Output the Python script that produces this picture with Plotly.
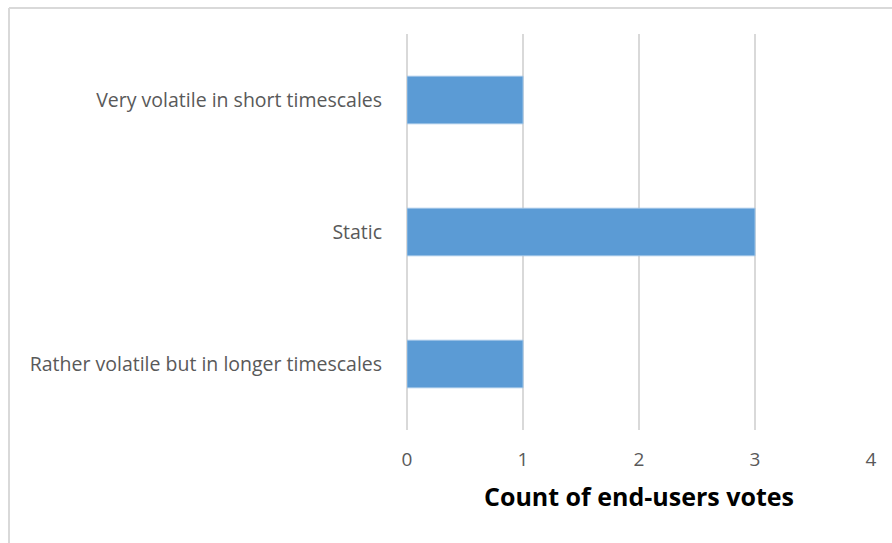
import plotly.graph_objects as go

# Vote counts per data-volatility category
categories = [
    "Rather volatile but in longer timescales",
    "Static",
    "Very volatile in short timescales",
]
votes = [1, 3, 1]
x_ticks = [0, 1, 2, 3, 4]

W, H = 892, 543
L, R, T, B = 407, 21, 34, 113
pw, ph = W - L - R, H - T - B


def px_x(p):
    return (p - L) / pw


def px_y(p):
    return (H - B - p) / ph


fig = go.Figure(
    go.Bar(
        x=votes,
        y=categories,
        orientation="h",
        marker=dict(color="#5b9bd5", line=dict(color="#9dc3e6", width=1)),
        width=0.36,
        hoverinfo="x+y",
    )
)

grid = "#d9d9d9"
font_family = "'Open Sans', sans-serif"

fig.update_layout(
    width=W,
    height=H,
    margin=dict(l=L, r=R, t=T, b=B),
    paper_bgcolor="white",
    plot_bgcolor="white",
    showlegend=False,
    font=dict(family=font_family, color="#595959", size=16),
    xaxis=dict(
        range=[0, 4],
        tickvals=x_ticks,
        ticktext=[str(v) for v in x_ticks],
        showgrid=True,
        gridcolor=grid,
        gridwidth=2,
        zeroline=True,
        zerolinecolor=grid,
        zerolinewidth=2,
        showline=False,
        ticks="outside",
        ticklen=12,
        tickcolor="rgba(0,0,0,0)",
        tickfont=dict(size=19, color="#595959"),
        title=dict(
            text="<b>Count of end-users votes</b>",
            font=dict(size=25, color="#000000", family=font_family),
            standoff=17,
        ),
    ),
    yaxis=dict(
        categoryorder="array",
        categoryarray=categories,
        showgrid=False,
        zeroline=False,
        showline=False,
        ticks="outside",
        ticklen=20,
        tickcolor="rgba(0,0,0,0)",
        tickfont=dict(size=19.5, color="#595959"),
    ),
    shapes=[
        # chart-area border (top and left edges)
        dict(type="line", xref="paper", yref="paper",
             x0=px_x(9), x1=px_x(W + 5), y0=px_y(8), y1=px_y(8),
             line=dict(color="#d9d9d9", width=2), layer="below"),
        dict(type="line", xref="paper", yref="paper",
             x0=px_x(9), x1=px_x(9), y0=px_y(8), y1=px_y(H + 5),
             line=dict(color="#d9d9d9", width=2), layer="below"),
    ],
)

fig.write_html("out.html")
